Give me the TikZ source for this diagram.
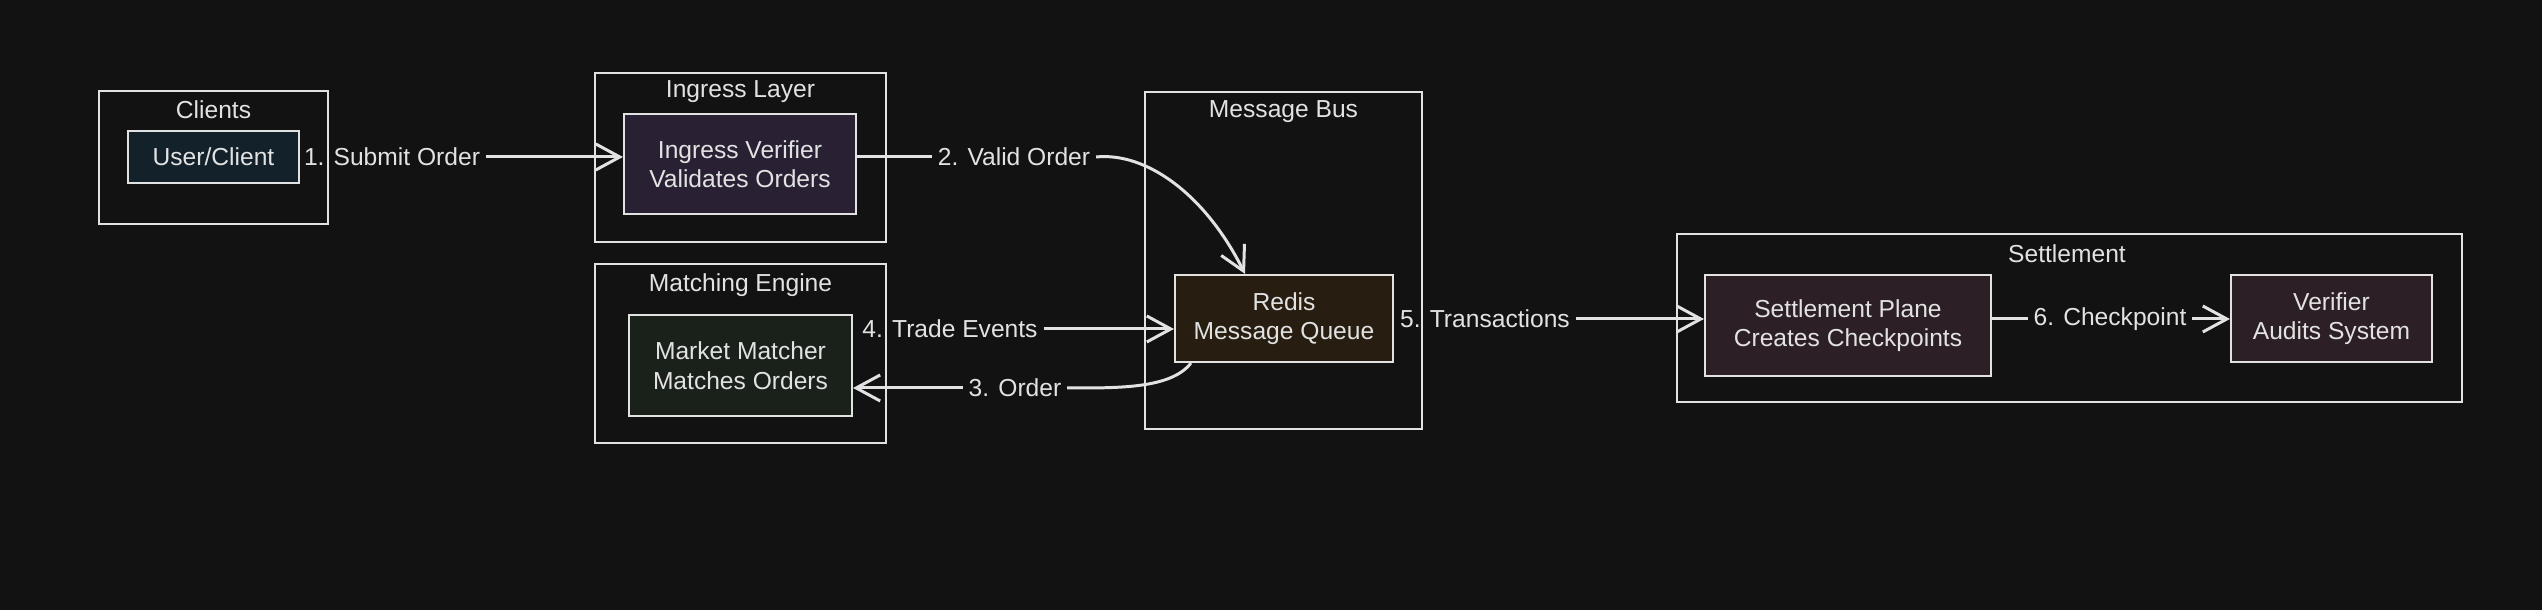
\documentclass[tikz,border=0pt]{standalone}
\usepackage{fontspec}
\setmainfont{Liberation Sans}
\usetikzlibrary{arrows.meta,positioning}

\definecolor{bgc}{HTML}{121212}
\definecolor{ink}{HTML}{E2E2E2}
\definecolor{clientfill}{HTML}{13222A}
\definecolor{ingfill}{HTML}{2A2034}
\definecolor{matchfill}{HTML}{19211A}
\definecolor{redisfill}{HTML}{271D10}
\definecolor{setfill}{HTML}{2D1F26}

\begin{document}
\begin{tikzpicture}[font=\fontsize{7}{8.4}\selectfont]
  %----- styles
  \tikzset{
    group/.style ={draw=ink,line width=0.6pt,inner sep=0pt},
    comp/.style  ={draw=ink,line width=0.6pt,text=ink,align=center,inner sep=0pt},
    title/.style ={text=ink,inner sep=1pt},
    lbl/.style   ={text=ink,inner sep=1.5pt},
    link/.style  ={draw=ink,line width=0.85pt},
    arrow/.style ={link,-{Straight Barb[length=2.4mm,width=2.6mm]}}
  }

  % canvas
  \useasboundingbox (0,0) rectangle (25.42,6.10);
  \fill[bgc] (0,0) rectangle (25.42,6.10);

  %----- groups
  \node[group,minimum width=2.29cm,minimum height=1.33cm] (clients)  at (2.135,4.525) {};
  \node[group,minimum width=2.91cm,minimum height=1.69cm] (ingress)  at (7.405,4.525) {};
  \node[group,minimum width=2.91cm,minimum height=1.79cm] (matching) at (7.405,2.565) {};
  \node[group,minimum width=2.77cm,minimum height=3.37cm] (bus)      at (12.835,3.495) {};
  \node[group,minimum width=7.85cm,minimum height=1.68cm] (settle)   at (20.695,2.92) {};

  % group titles
  \node[title] (clientsT)  at (2.135,5.00)  {Clients};
  \node[title] (ingressT)  at (7.405,5.18)  {Ingress Layer};
  \node[title] (matchingT) at (7.405,3.25)  {Matching Engine};
  \node[title] (busT)      at (12.835,4.98) {Message Bus};
  \node[title] (settleT)   at (20.67,3.56)  {Settlement};

  %----- components
  \node[comp,fill=clientfill,minimum width=1.71cm,minimum height=0.52cm] (user)    at (2.135,4.53)  {User/Client};
  \node[comp,fill=ingfill,minimum width=2.32cm,minimum height=1.00cm]    (ingv)    at (7.40,4.46)   {Ingress Verifier\\Validates Orders};
  \node[comp,fill=matchfill,minimum width=2.23cm,minimum height=1.01cm]  (matcher) at (7.405,2.445) {Market Matcher\\Matches Orders};
  \node[comp,fill=redisfill,minimum width=2.18cm,minimum height=0.87cm]  (redis)   at (12.84,2.915) {Redis\\Message Queue};
  \node[comp,fill=setfill,minimum width=2.86cm,minimum height=1.01cm]    (splane)  at (18.48,2.845) {Settlement Plane\\Creates Checkpoints};
  \node[comp,fill=setfill,minimum width=2.01cm,minimum height=0.87cm]    (verif)   at (23.315,2.915) {Verifier\\Audits System};

  %----- edge labels
  \node[lbl] (lbl1) at (3.92,4.53)  {1. Submit Order};
  \node[lbl] (lbl2) at (10.14,4.53) {2. Valid Order};
  \node[lbl] (lbl3) at (10.15,2.22) {3. Order};
  \node[lbl] (lbl4) at (9.50,2.81)  {4. Trade Events};
  \node[lbl] (lbl5) at (14.85,2.91) {5. Transactions};
  \node[lbl] (lbl6) at (21.10,2.91) {6. Checkpoint};

  %----- connections
  % 1: client -> ingress
  \draw[link]  (user.east) -- (lbl1.west);
  \draw[arrow] (lbl1.east) -- (lbl1.east -| ingv.west);

  % 2: ingress -> redis (bends down into the queue)
  \draw[link]  (ingv.east |- lbl2) -- (lbl2.west);
  \draw[arrow] (lbl2.east) .. controls +(0.5,0.05) and +(-0.4,0.8) .. ([xshift=-3.9mm]redis.north);

  % 3: redis -> matcher
  \draw[link]  ([xshift=1.7mm]redis.south west) .. controls +(-0.2,-0.26) and +(0.5,0) .. (lbl3.east);
  \draw[arrow] (lbl3.west) -- (lbl3.west -| matcher.east);

  % 4: matcher -> redis
  \draw[arrow] (lbl4.east) -- (lbl4.east -| redis.west);

  % 5: redis -> settlement
  \draw[arrow] (lbl5.east) -- (lbl5.east -| splane.west);

  % 6: settlement -> verifier
  \draw[link]  (splane.east |- lbl6) -- (lbl6.west);
  \draw[arrow] (lbl6.east) -- (lbl6.east -| verif.west);
\end{tikzpicture}
\end{document}
